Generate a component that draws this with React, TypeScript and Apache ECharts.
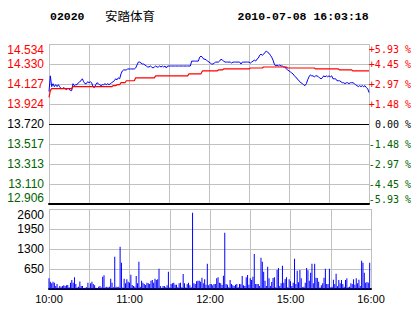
import React, { useEffect, useRef } from 'react';
import * as echarts from 'echarts';

const stockCode = '02020';
const stockName = '安踏体育';
const timestamp = '2010-07-08 16:03:18';

const prevClose = 13.72;
const priceStep = 0.2035;
const priceLabels = ['12.906', '13.110', '13.313', '13.517', '13.720', '13.924', '14.127', '14.330', '14.534'];
const pctLabels = ['-5.93 %', '-4.45 %', '-2.97 %', '-1.48 %', '0.00 %', '+1.48 %', '+2.97 %', '+4.45 %', '+5.93 %'];

const volumeMax = 2600;
const volumeInterval = 650;

const timeTickMinutes = [0, 60, 120, 180, 240];
const timeTickLabels = ['10:00', '11:00', '12:00', '15:00', '16:00'];

// one value per trading minute (10:00-12:30, 14:30-16:00)
const prices = [
  14.05, 14.21, 14.10, 14.13, 14.10, 14.12, 14.10, 14.12, 14.10, 14.08,
  14.08, 14.09, 14.08, 14.07, 14.08, 14.08, 14.06, 14.06, 14.13, 14.11,
  14.12, 14.12, 14.14, 14.15, 14.16, 14.18, 14.15, 14.13, 14.13, 14.15,
  14.14, 14.15, 14.14, 14.10, 14.09, 14.12, 14.14, 14.13, 14.12, 14.11,
  14.12, 14.12, 14.13, 14.12, 14.13, 14.12, 14.13, 14.14, 14.15, 14.16,
  14.18, 14.17, 14.19, 14.18, 14.23, 14.26, 14.27, 14.27, 14.27, 14.28,
  14.28, 14.28, 14.28, 14.28, 14.28, 14.29, 14.32, 14.35, 14.35, 14.34,
  14.33, 14.33, 14.32, 14.31, 14.30, 14.30, 14.31, 14.30, 14.29, 14.30,
  14.31, 14.30, 14.30, 14.31, 14.30, 14.31, 14.30, 14.31, 14.29, 14.31,
  14.31, 14.31, 14.31, 14.31, 14.31, 14.31, 14.31, 14.31, 14.31, 14.31,
  14.31, 14.31, 14.31, 14.31, 14.31, 14.31, 14.31, 14.36, 14.36, 14.36,
  14.36, 14.36, 14.36, 14.40, 14.41, 14.40, 14.38, 14.38, 14.37, 14.36,
  14.35, 14.34, 14.33, 14.33, 14.34, 14.35, 14.35, 14.35, 14.36, 14.38,
  14.37, 14.36, 14.35, 14.35, 14.35, 14.35, 14.35, 14.34, 14.35, 14.35,
  14.35, 14.35, 14.35, 14.35, 14.33, 14.35, 14.35, 14.35, 14.35, 14.35,
  14.35, 14.34, 14.35, 14.36, 14.37, 14.36, 14.38, 14.39, 14.42, 14.43,
  14.42, 14.43, 14.45, 14.46, 14.45, 14.44, 14.42, 14.40, 14.37, 14.33,
  14.31, 14.32, 14.31, 14.32, 14.31, 14.31, 14.30, 14.30, 14.28, 14.27,
  14.26, 14.25, 14.24, 14.23, 14.21, 14.20, 14.18, 14.17, 14.15, 14.14,
  14.13, 14.12, 14.11, 14.13, 14.17, 14.20, 14.22, 14.21, 14.21, 14.20,
  14.21, 14.21, 14.20, 14.19, 14.18, 14.19, 14.21, 14.20, 14.21, 14.20,
  14.21, 14.20, 14.21, 14.18, 14.18, 14.18, 14.16, 14.16, 14.16, 14.15,
  14.14, 14.14, 14.13, 14.14, 14.14, 14.13, 14.14, 14.14, 14.14, 14.13,
  14.12, 14.11, 14.10, 14.11, 14.10, 14.11, 14.10, 14.11, 14.09, 14.08,
  14.04,
];

const averages = [
  13.99, 14.06, 14.08, 14.08, 14.08, 14.08, 14.08, 14.08, 14.08, 14.08,
  14.08, 14.08, 14.08, 14.08, 14.08, 14.08, 14.08, 14.08, 14.10, 14.10,
  14.10, 14.10, 14.10, 14.10, 14.10, 14.10, 14.10, 14.10, 14.10, 14.10,
  14.10, 14.10, 14.10, 14.10, 14.10, 14.10, 14.10, 14.10, 14.10, 14.10,
  14.10, 14.10, 14.10, 14.10, 14.10, 14.10, 14.10, 14.10, 14.11, 14.11,
  14.11, 14.12, 14.12, 14.12, 14.14, 14.14, 14.14, 14.14, 14.16, 14.16,
  14.16, 14.16, 14.16, 14.16, 14.16, 14.19, 14.19, 14.19, 14.19, 14.19,
  14.19, 14.19, 14.19, 14.19, 14.19, 14.19, 14.19, 14.19, 14.19, 14.19,
  14.21, 14.21, 14.21, 14.21, 14.21, 14.21, 14.21, 14.21, 14.21, 14.21,
  14.21, 14.21, 14.21, 14.21, 14.21, 14.21, 14.21, 14.21, 14.21, 14.21,
  14.21, 14.21, 14.21, 14.21, 14.21, 14.23, 14.23, 14.23, 14.23, 14.23,
  14.23, 14.23, 14.23, 14.23, 14.23, 14.26, 14.26, 14.26, 14.26, 14.26,
  14.26, 14.26, 14.26, 14.26, 14.26, 14.26, 14.26, 14.27, 14.27, 14.27,
  14.27, 14.28, 14.28, 14.28, 14.28, 14.28, 14.28, 14.28, 14.28, 14.28,
  14.28, 14.28, 14.28, 14.28, 14.28, 14.28, 14.28, 14.28, 14.28, 14.28,
  14.28, 14.29, 14.29, 14.29, 14.29, 14.29, 14.29, 14.29, 14.29, 14.29,
  14.29, 14.30, 14.30, 14.30, 14.30, 14.30, 14.30, 14.30, 14.30, 14.30,
  14.30, 14.30, 14.30, 14.30, 14.30, 14.30, 14.30, 14.30, 14.30, 14.29,
  14.29, 14.29, 14.29, 14.29, 14.29, 14.29, 14.29, 14.29, 14.29, 14.29,
  14.29, 14.29, 14.29, 14.29, 14.29, 14.29, 14.29, 14.29, 14.29, 14.29,
  14.28, 14.28, 14.28, 14.28, 14.28, 14.28, 14.28, 14.28, 14.28, 14.28,
  14.28, 14.28, 14.28, 14.28, 14.28, 14.28, 14.28, 14.28, 14.27, 14.27,
  14.27, 14.27, 14.27, 14.27, 14.27, 14.27, 14.27, 14.27, 14.26, 14.26,
  14.26, 14.26, 14.26, 14.26, 14.26, 14.26, 14.26, 14.26, 14.26, 14.26,
  14.26,
];

const volumes = [
  347, 238, 184, 238, 205, 97, 162, 40, 97, 75,
  97, 119, 97, 119, 130, 60, 205, 292, 200, 379,
  162, 50, 75, 240, 97, 97, 30, 40, 60, 205,
  40, 184, 238, 162, 119, 40, 30, 75, 97, 50,
  400, 444, 50, 75, 60, 75, 336, 205, 60, 1050,
  75, 60, 75, 1375, 855, 50, 336, 184, 314, 238,
  205, 465, 130, 97, 75, 422, 184, 888, 75, 270,
  200, 162, 130, 205, 184, 160, 270, 292, 200, 336,
  292, 314, 660, 97, 40, 97, 97, 60, 119, 563,
  50, 162, 184, 205, 140, 140, 60, 184, 205, 60,
  487, 184, 50, 162, 205, 119, 60, 2480, 184, 162,
  249, 270, 270, 238, 368, 184, 314, 140, 823, 119,
  162, 162, 119, 162, 162, 346, 379, 205, 184, 130,
  433, 1830, 162, 140, 60, 292, 162, 119, 97, 140,
  162, 60, 162, 151, 422, 119, 97, 379, 455, 140,
  346, 292, 400, 1137, 162, 162, 162, 97, 1018, 888,
  563, 270, 97, 726, 346, 97, 227, 357, 379, 60,
  617, 682, 97, 184, 758, 205, 325, 379, 60, 314,
  249, 97, 205, 985, 162, 595, 216, 617, 346, 60,
  75, 205, 682, 606, 270, 530, 823, 184, 823, 368,
  357, 238, 50, 119, 184, 368, 660, 162, 162, 660,
  60, 75, 303, 162, 498, 86, 292, 184, 292, 162,
  75, 292, 346, 60, 75, 184, 162, 314, 140, 346,
  184, 303, 97, 920, 855, 531, 205, 227, 205, 855,
  0,
];

export default function App() {
  const ref = useRef<HTMLDivElement>(null);

  useEffect(() => {
    const chart = echarts.init(ref.current as HTMLDivElement, null, { renderer: 'svg' });
    const red = '#ff0000';
    const green = '#006400';
    const gridGray = '#c0c0c0';
    const toStep = (p: number) => (p - prevClose) / priceStep;
    const labelColor = (v: any) => {
      const n = parseFloat(v);
      return n > 0.001 ? red : n < -0.001 ? green : '#000000';
    };
    const monoBold = 'bold 11.5px "Liberation Mono"';

    chart.setOption({
      animation: false,
      grid: [
        { left: 49, top: 44, width: 322, height: 160 },
        { left: 49, top: 209, width: 322, height: 80 },
      ],
      graphic: [
        { type: 'text', x: 50, y: 16, style: { text: stockCode, font: monoBold, fill: '#000', verticalAlign: 'middle' } },
        { type: 'text', x: 105, y: 15, style: { text: stockName, font: '12.5px "Noto Sans CJK SC"', fill: '#000', verticalAlign: 'middle' } },
        { type: 'text', x: 237.5, y: 16, style: { text: timestamp, font: monoBold, fill: '#000', verticalAlign: 'middle' } },
      ],
      xAxis: [
        {
          type: 'value', gridIndex: 0, min: 0, max: 240, interval: 30,
          axisLine: { onZero: false, lineStyle: { color: '#000', width: 2 } },
          axisTick: { show: false }, axisLabel: { show: false },
          splitLine: { lineStyle: { color: gridGray, width: 1 } },
        },
        {
          type: 'value', gridIndex: 1, min: 0, max: 240, interval: 30,
          axisLine: { onZero: false, lineStyle: { color: '#000', width: 2 } },
          axisTick: { show: false },
          axisLabel: {
            formatter: (v: number) => {
              const i = timeTickMinutes.indexOf(Math.round(v));
              return i >= 0 ? timeTickLabels[i] : '';
            },
            color: '#000', fontSize: 11, fontFamily: 'Liberation Sans', margin: 4,
          },
          splitLine: { lineStyle: { color: gridGray, width: 1 } },
        },
      ],
      yAxis: [
        {
          type: 'value', gridIndex: 0, position: 'left', min: -4, max: 4, interval: 1,
          axisLine: { show: false }, axisTick: { show: false },
          splitLine: { lineStyle: { color: gridGray, width: 1 } },
          axisLabel: {
            formatter: (v: number) => priceLabels[Math.round(v) + 4],
            color: labelColor, fontSize: 12, fontFamily: 'Liberation Sans', margin: 5,
            verticalAlignMinLabel: 'bottom', verticalAlignMaxLabel: 'top',
          },
        },
        {
          type: 'value', gridIndex: 0, position: 'right', min: -4, max: 4, interval: 1,
          axisLine: { show: false }, axisTick: { show: false }, splitLine: { show: false },
          axisLabel: {
            formatter: (v: number) => pctLabels[Math.round(v) + 4],
            color: labelColor, fontSize: 10, fontFamily: 'DejaVu Sans Mono', align: 'right', margin: 42,
            verticalAlignMinLabel: 'bottom', verticalAlignMaxLabel: 'top',
          },
        },
        {
          type: 'value', gridIndex: 1, min: 0, max: volumeMax, interval: volumeInterval,
          axisLine: { show: false }, axisTick: { show: false },
          splitLine: { lineStyle: { color: gridGray, width: 1 } },
          axisLabel: {
            formatter: (v: number) => (v === 0 ? '' : String(v)),
            color: '#000', fontSize: 12, fontFamily: 'Liberation Sans', margin: 5,
            verticalAlignMaxLabel: 'top',
          },
        },
      ],
      series: [
        {
          type: 'line', xAxisIndex: 0, yAxisIndex: 0,
          data: prices.map((p, i) => [i, toStep(p)]),
          showSymbol: false, lineStyle: { color: '#0000ff', width: 1 }, itemStyle: { color: '#0000ff' },
          markLine: {
            silent: true, symbol: ['none', 'none'], label: { show: false },
            lineStyle: { color: '#000', width: 1, type: 'solid' },
            data: [{ yAxis: 0 }],
          },
        },
        {
          type: 'line', xAxisIndex: 0, yAxisIndex: 0,
          data: averages.map((p, i) => [i, toStep(p)]),
          showSymbol: false, lineStyle: { color: red, width: 1.2 }, itemStyle: { color: red },
        },
        {
          type: 'bar', xAxisIndex: 1, yAxisIndex: 2,
          data: volumes.map((v, i) => [i, v]),
          barWidth: 1, itemStyle: { color: '#0000ff' },
        },
      ],
    });
    return () => chart.dispose();
  }, []);

  return <div ref={ref} style={{ position: 'absolute', left: 0, top: 0, width: 414, height: 314, background: '#fff' }} />;
}
